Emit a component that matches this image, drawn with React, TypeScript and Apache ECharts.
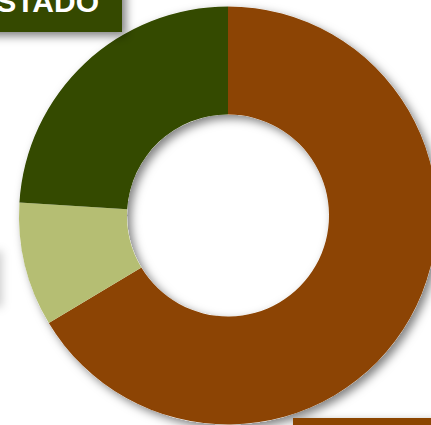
import React, { useEffect, useRef } from "react";
import * as echarts from "echarts";

const categories = ["Brown", "Light", "ESTADO"];
const values = [66.4, 9.6, 24.0];
const colors = ["#8C4404", "#B5BE73", "#344A00"];

export default function App() {
  const ref = useRef<HTMLDivElement>(null);
  useEffect(() => {
    if (!ref.current) return;
    const chart = echarts.init(ref.current, null, { renderer: "svg" });
    const shadow = {
      shadowBlur: 10,
      shadowOffsetX: 4,
      shadowOffsetY: 4,
      shadowColor: "rgba(0,0,0,0.5)",
    };
    chart.setOption({
      animation: false,
      series: [
        {
          type: "pie",
          silent: true,
          center: [228, 215.5],
          radius: [101, 209],
          startAngle: 90,
          label: { show: false },
          labelLine: { show: false },
          itemStyle: { color: "#ffffff", ...shadow },
          data: [{ name: "bg", value: 1 }],
          z: 1,
        },
        {
          type: "pie",
          center: [228, 215.5],
          radius: [101, 209],
          startAngle: 90,
          clockwise: true,
          label: { show: false },
          labelLine: { show: false },
          data: categories.map((c, i) => ({
            name: c,
            value: values[i],
            itemStyle: { color: colors[i] },
          })),
          z: 2,
        },
      ],
      graphic: [
        {
          type: "rect",
          shape: { x: -60, y: -40, width: 182, height: 72 },
          style: { fill: "#344A00", ...shadow },
          z: 10,
        },
        {
          type: "text",
          x: 99,
          y: 1,
          style: {
            text: "ESTADO",
            fill: "#ffffff",
            font: "bold 30px 'Liberation Sans', Arial, sans-serif",
            align: "right",
            verticalAlign: "middle",
          },
          z: 11,
        },
        {
          type: "rect",
          shape: { x: -200, y: 247, width: 198, height: 56 },
          style: { fill: "#B5BE73", ...shadow, shadowColor: "rgba(0,0,0,0.2)" },
          z: 10,
        },
        {
          type: "rect",
          shape: { x: 293, y: 418, width: 200, height: 60 },
          style: { fill: "#8C4404", ...shadow },
          z: 10,
        },
      ],
    });
    return () => chart.dispose();
  }, []);
  return (
    <div
      ref={ref}
      style={{ position: "absolute", left: 0, top: 0, width: 431, height: 425 }}
    />
  );
}
